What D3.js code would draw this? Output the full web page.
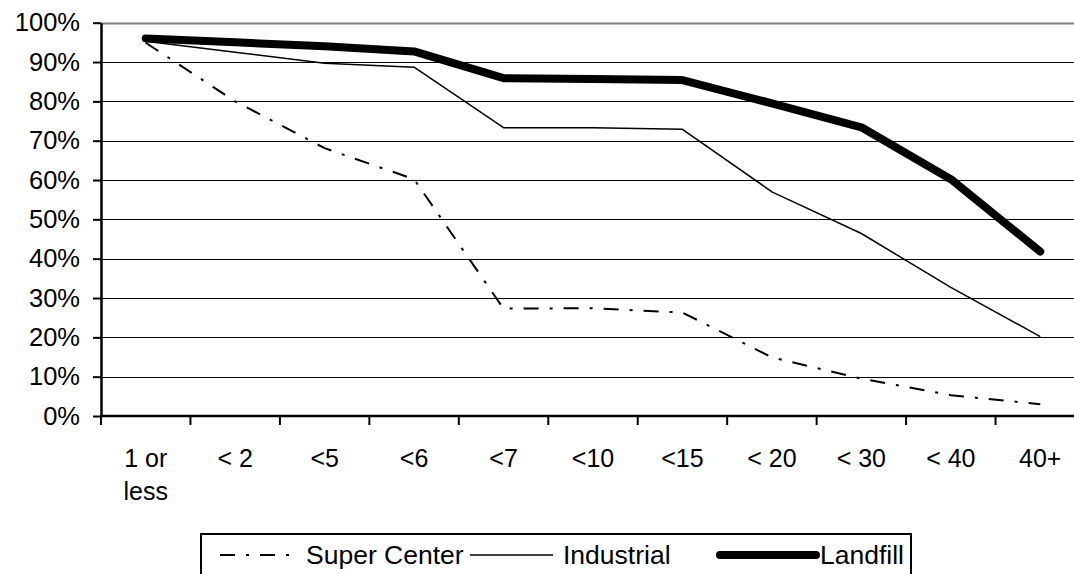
<!DOCTYPE html>
<html>
<head>
<meta charset="utf-8">
<script src="https://cdn.jsdelivr.net/npm/d3@7"></script>
<style>
  body { margin: 0; background: #fff; }
  svg { display: block; font-family: "Liberation Sans", Arial, sans-serif; }
</style>
</head>
<body>
<div id="chart"></div>
<script>
// categories along the bottom
var categories = ["1 or less", "< 2", "<5", "<6", "<7", "<10", "<15", "< 20", "< 30", "< 40", "40+"];
var tickLabels = [["1 or", "less"], ["< 2"], ["<5"], ["<6"], ["<7"], ["<10"], ["<15"], ["< 20"], ["< 30"], ["< 40"], ["40+"]];

// share of sites
var superCenter = [0.949, 0.800, 0.681, 0.602, 0.273, 0.274, 0.263, 0.149, 0.095, 0.053, 0.030];
var industrial  = [0.953, 0.925, 0.897, 0.887, 0.733, 0.733, 0.729, 0.570, 0.464, 0.327, 0.202];
var landfill    = [0.960, 0.950, 0.940, 0.927, 0.859, 0.857, 0.854, 0.795, 0.734, 0.602, 0.418];

var yTicks = [0, 0.1, 0.2, 0.3, 0.4, 0.5, 0.6, 0.7, 0.8, 0.9, 1];

var series = [
  { name: "Super Center", values: superCenter, width: 2,   dash: "15,11,3,11" },
  { name: "Industrial",   values: industrial,  width: 1.5, dash: null },
  { name: "Landfill",     values: landfill,    width: 8,   dash: null }
];

var W = 1074, H = 574;
var svg = d3.select("#chart").append("svg")
    .attr("width", W)
    .attr("height", H);

// the plot runs a little past the right edge, like the original
var x = d3.scaleBand().domain(categories).range([101, 1085]);
var y = d3.scaleLinear().domain([0, 1]).range([416, 22.7]);

// gridlines
svg.append("g")
  .selectAll("line")
  .data(yTicks.filter(function(d){ return d > 0; }))
  .enter().append("line")
    .attr("x1", 101).attr("x2", W)
    .attr("y1", function(d){ return Math.round(y(d)) + 0.5; })
    .attr("y2", function(d){ return Math.round(y(d)) + 0.5; })
    .attr("stroke", function(d){ return d === 1 ? "#808080" : "#000"; })
    .attr("stroke-width", function(d){ return d === 1 ? 2 : 1; });

// y axis
var yAxis = svg.append("g")
    .attr("transform", "translate(101,0)")
    .call(d3.axisLeft(y).tickValues(yTicks).tickFormat(d3.format(".0%"))
          .tickSize(8).tickSizeOuter(0).tickPadding(13));
yAxis.select(".domain").attr("stroke-width", 2.5);
yAxis.selectAll(".tick line").attr("stroke-width", 2);
yAxis.selectAll("text")
    .attr("font-family", "Liberation Sans, Arial, sans-serif")
    .attr("font-size", 25.5)
    .attr("fill", "#000");

// x axis line and ticks at band edges
svg.append("line")
    .attr("x1", 100).attr("x2", W)
    .attr("y1", y(0)).attr("y2", y(0))
    .attr("stroke", "#000").attr("stroke-width", 2.5);

svg.append("g")
  .selectAll("line")
  .data(categories)
  .enter().append("line")
    .attr("x1", function(d){ return x(d); })
    .attr("x2", function(d){ return x(d); })
    .attr("y1", y(0)).attr("y2", y(0) + 9)
    .attr("stroke", "#000").attr("stroke-width", 2);

var xl = svg.append("g")
  .selectAll("text")
  .data(categories)
  .enter().append("text")
    .attr("x", function(d){ return x(d) + x.bandwidth() / 2; })
    .attr("y", 467)
    .attr("text-anchor", "middle")
    .attr("font-size", 25)
    .attr("fill", "#000");
xl.selectAll("tspan")
  .data(function(d, i){ return tickLabels[i]; })
  .enter().append("tspan")
    .attr("x", function(){ return d3.select(this.parentNode).attr("x"); })
    .attr("dy", function(d, i){ return i === 0 ? 0 : 32.5; })
    .text(function(d){ return d; });

// lines
var line = d3.line()
    .x(function(d, i){ return x(categories[i]) + x.bandwidth() / 2; })
    .y(function(d){ return y(d); });

svg.append("g")
  .selectAll("path")
  .data(series)
  .enter().append("path")
    .attr("d", function(s){ return line(s.values); })
    .attr("fill", "none")
    .attr("stroke", "#000")
    .attr("stroke-width", function(s){ return s.width; })
    .attr("stroke-dasharray", function(s){ return s.dash; })
    .attr("stroke-linejoin", "round")
    .attr("stroke-linecap", function(s){ return s.width > 4 ? "round" : "butt"; });

// legend: three equal columns, box cut off by the bottom edge
var legend = svg.append("g");
legend.append("rect")
    .attr("x", 201).attr("y", 534)
    .attr("width", 710).attr("height", 60)
    .attr("fill", "#fff").attr("stroke", "#000").attr("stroke-width", 2);

var colX = d3.scaleBand().domain(series.map(function(s){ return s.name; })).range([220, 991]);
var sampleStart = [0, -7, -14];
var sampleEnd = [73, 76, 82];

var item = legend.selectAll(".item")
  .data(series)
  .enter().append("g")
    .attr("class", "item")
    .attr("transform", function(s){ return "translate(" + colX(s.name) + ",0)"; });
item.append("line")
    .attr("x1", function(s, i){ return sampleStart[i]; })
    .attr("x2", function(s, i){ return sampleEnd[i]; })
    .attr("y1", 555).attr("y2", 555)
    .attr("stroke", "#000")
    .attr("stroke-width", function(s){ return s.width; })
    .attr("stroke-dasharray", function(s){ return s.dash; })
    .attr("stroke-linecap", function(s){ return s.width > 4 ? "round" : "butt"; });
item.append("text")
    .attr("x", 86)
    .attr("y", 564)
    .attr("font-size", 26.5)
    .attr("fill", "#000")
    .text(function(s){ return s.name; });
</script>
</body>
</html>
